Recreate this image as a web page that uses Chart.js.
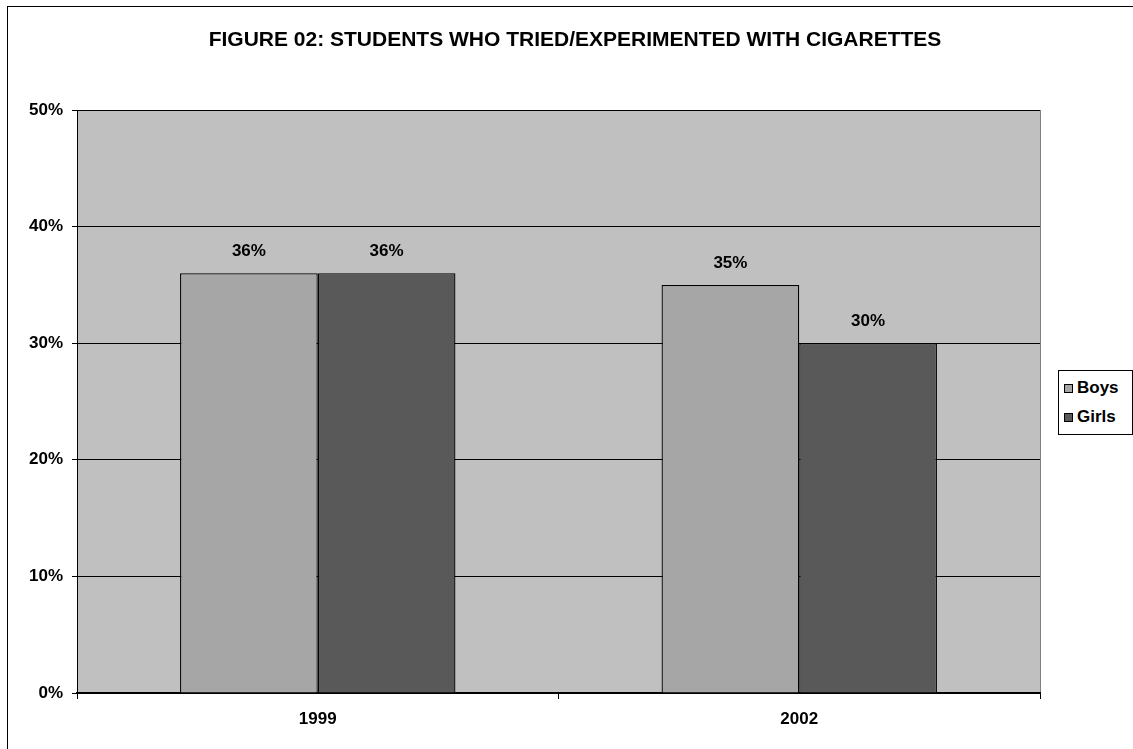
<!DOCTYPE html>
<html>
<head>
<meta charset="utf-8">
<script src="https://cdn.jsdelivr.net/npm/chart.js@4.4.1/dist/chart.umd.min.js"></script>
<style>
  html, body { margin: 0; padding: 0; background: #fff; }
  #wrap { position: relative; width: 1133px; height: 749px; overflow: hidden; }
  #frame { position: absolute; left: 7px; top: 6px; width: 1140px; height: 760px;
           border-left: 1px solid #000; border-top: 1px solid #000; }
  #legend { position: absolute; left: 1058px; top: 370px; width: 73px; height: 63px;
            border: 1px solid #000; background: #fff;
            font: bold 17px Arial, "Liberation Sans", sans-serif; }
  #legend div { position: absolute; left: 0; height: 20px; display: flex; align-items: center; }
  #legend span { display: inline-block; width: 7px; height: 7px; border: 1px solid #000; margin: 0 4px 0 5px; }
</style>
</head>
<body>
<div id="wrap">
  <canvas id="myChart" width="1133" height="749"></canvas>
  <div id="frame"></div>
  <div id="legend"></div>
</div>
<script>
"use strict";

const categories = ["1999", "2002"];
const boys = [36, 35];
const girls = [36, 30];
const seriesNames = ["Boys", "Girls"];
const seriesColors = ["#A6A6A6", "#595959"];
const yTicks = [0, 10, 20, 30, 40, 50];
const titleText = "FIGURE 02: STUDENTS WHO TRIED/EXPERIMENTED WITH CIGARETTES";

const fontFamily = 'Arial, "Liberation Sans", sans-serif';

// фон области графика и заголовок
const plotBackground = {
  id: "plotBackground",
  beforeDraw(chart) {
    const { ctx, chartArea: a } = chart;
    ctx.save();
    ctx.fillStyle = "#C0C0C0";
    ctx.fillRect(a.left, a.top, a.right - a.left, a.bottom - a.top);
    ctx.strokeStyle = "#808080";
    ctx.lineWidth = 1;
    ctx.strokeRect(a.left + 0.5, a.top + 0.5, a.right - a.left, a.bottom - a.top);
    ctx.font = "bold 21px " + fontFamily;
    ctx.fillStyle = "#000";
    ctx.textAlign = "center";
    ctx.textBaseline = "middle";
    ctx.fillText(titleText, 575, 40);
    ctx.restore();
  },
};

// подписи над столбцами
const valueLabels = {
  id: "valueLabels",
  afterDatasetsDraw(chart) {
    const ctx = chart.ctx;
    ctx.save();
    ctx.font = "bold 17px " + fontFamily;
    ctx.fillStyle = "#000";
    ctx.textAlign = "center";
    ctx.textBaseline = "middle";
    chart.data.datasets.forEach((ds, i) => {
      chart.getDatasetMeta(i).data.forEach((bar, j) => {
        ctx.fillText(ds.data[j] + "%", bar.x, bar.y - 22);
      });
    });
    ctx.restore();
  },
};

const ctx = document.getElementById("myChart");
new Chart(ctx, {
  type: "bar",
  data: {
    labels: categories,
    datasets: [
      {
        label: seriesNames[0],
        data: boys,
        backgroundColor: seriesColors[0],
        borderColor: "#000",
        borderWidth: 1.3,
        borderSkipped: "bottom",
      },
      {
        label: seriesNames[1],
        data: girls,
        backgroundColor: seriesColors[1],
        borderColor: "#000",
        borderWidth: 1.3,
        borderSkipped: "bottom",
      },
    ],
  },
  options: {
    responsive: false,
    animation: false,
    layout: { padding: { left: 0, right: 93, top: 110, bottom: 0 } },
    datasets: {
      bar: { categoryPercentage: 0.572, barPercentage: 1 },
    },
    plugins: {
      legend: { display: false },
      tooltip: { enabled: false },
      title: { display: false },
    },
    scales: {
      x: {
        grid: {
          offset: true,
          drawOnChartArea: false,
          drawTicks: true,
          tickLength: 6,
          color: "#000",
        },
        border: { color: "#000", width: 1.3 },
        ticks: {
          color: "#000",
          font: { family: fontFamily, size: 17, weight: "bold" },
          padding: 10,
        },
        afterFit(scale) {
          scale.height = 56;
        },
      },
      y: {
        min: 0,
        max: 50,
        afterBuildTicks(scale) {
          scale.ticks = yTicks.map((v) => ({ value: v }));
        },
        grid: { color: "#000", tickLength: 5 },
        border: { color: "#000", width: 1 },
        ticks: {
          color: "#000",
          font: { family: fontFamily, size: 17, weight: "bold" },
          padding: 9,
          callback: (v) => v + "%",
        },
        afterFit(scale) {
          scale.width = 77;
        },
      },
    },
  },
  plugins: [plotBackground, valueLabels],
});

// легенда
const legend = document.getElementById("legend");
seriesNames.forEach((name, i) => {
  const row = document.createElement("div");
  row.style.top = (i === 0 ? 7 : 36) + "px";
  const box = document.createElement("span");
  box.style.background = seriesColors[i];
  row.appendChild(box);
  row.appendChild(document.createTextNode(name));
  legend.appendChild(row);
});
</script>
</body>
</html>
